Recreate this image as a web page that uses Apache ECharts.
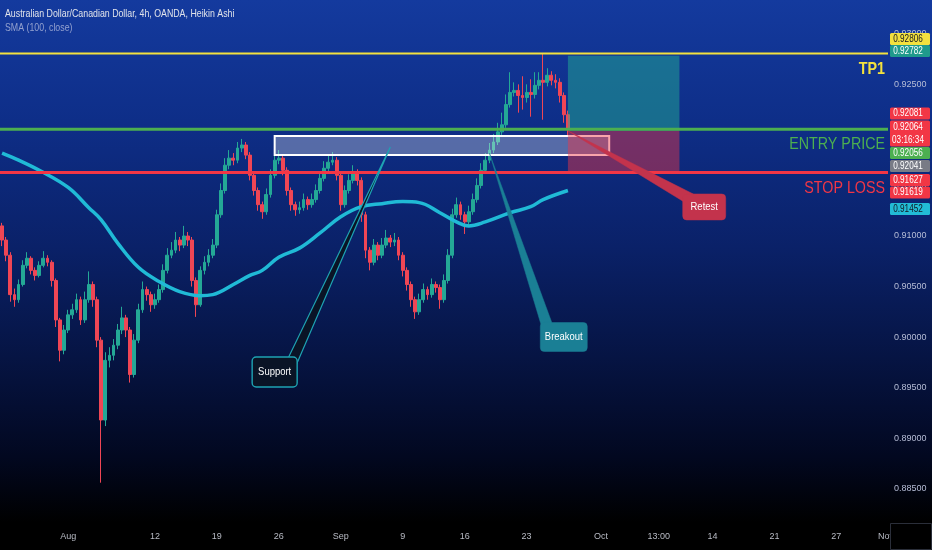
<!DOCTYPE html>
<html><head><meta charset="utf-8">
<script src="https://cdn.jsdelivr.net/npm/echarts@6/dist/echarts.min.js"></script>
<style>html,body{margin:0;padding:0;background:#000;}#c{width:932px;height:550px;}</style>
</head><body><div id="c"></div>
<script>
const chartTitle = 'Australian Dollar/Canadian Dollar, 4h, OANDA, Heikin Ashi';
const studyTitle = 'SMA (100, close)';

const opens = [0.9110,0.9096,0.9081,0.9042,0.9037,0.9052,0.9071,0.9078,0.9066,0.9061,
0.9071,0.9078,0.9074,0.9056,0.9017,0.8987,0.9007,0.9022,0.9027,0.9037,
0.9017,0.9037,0.9052,0.9037,0.8997,0.8918,0.8977,0.8982,0.8992,0.9007,
0.9019,0.9007,0.8963,0.8997,0.9027,0.9047,0.9042,0.9032,0.9037,0.9047,
0.9066,0.9081,0.9086,0.9096,0.9091,0.9100,0.9096,0.9056,0.9032,0.9066,
0.9074,0.9081,0.9091,0.9121,0.9145,0.9170,0.9177,0.9175,0.9187,0.9190,
0.9180,0.9160,0.9145,0.9131,0.9124,0.9141,0.9160,0.9175,0.9177,0.9165,
0.9145,0.9131,0.9126,0.9128,0.9136,0.9131,0.9136,0.9145,0.9157,0.9167,
0.9173,0.9175,0.9160,0.9131,0.9145,0.9155,0.9163,0.9155,0.9121,0.9086,
0.9074,0.9091,0.9081,0.9091,0.9098,0.9094,0.9096,0.9081,0.9066,0.9052,
0.9037,0.9025,0.9037,0.9047,0.9042,0.9052,0.9049,0.9037,0.9056,0.9081,
0.9121,0.9131,0.9121,0.9114,0.9124,0.9136,0.9150,0.9165,0.9175,0.9185,
0.9193,0.9203,0.9210,0.9230,0.9242,0.9244,0.9239,0.9237,0.9242,0.9240,
0.9249,0.9254,0.9252,0.9259,0.9254,0.9252,0.9239,0.9220];

const closes = [0.9096,0.9081,0.9042,0.9037,0.9052,0.9071,0.9078,0.9066,0.9061,0.9071,
0.9078,0.9074,0.9056,0.9017,0.8987,0.9007,0.9022,0.9027,0.9037,0.9017,
0.9037,0.9052,0.9037,0.8997,0.8918,0.8977,0.8982,0.8992,0.9007,0.9019,
0.9007,0.8963,0.8997,0.9027,0.9047,0.9042,0.9032,0.9037,0.9047,0.9066,
0.9081,0.9086,0.9096,0.9091,0.9100,0.9096,0.9056,0.9032,0.9066,0.9074,
0.9081,0.9091,0.9121,0.9145,0.9170,0.9177,0.9175,0.9187,0.9190,0.9180,
0.9160,0.9145,0.9131,0.9124,0.9141,0.9160,0.9175,0.9177,0.9165,0.9145,
0.9131,0.9126,0.9128,0.9136,0.9131,0.9136,0.9145,0.9157,0.9167,0.9173,
0.9175,0.9160,0.9131,0.9145,0.9155,0.9163,0.9155,0.9121,0.9086,0.9074,
0.9091,0.9081,0.9091,0.9098,0.9094,0.9096,0.9081,0.9066,0.9052,0.9037,
0.9025,0.9037,0.9047,0.9042,0.9052,0.9049,0.9037,0.9056,0.9081,0.9121,
0.9131,0.9121,0.9114,0.9124,0.9136,0.9150,0.9165,0.9175,0.9185,0.9193,
0.9203,0.9210,0.9230,0.9242,0.9244,0.9239,0.9237,0.9242,0.9240,0.9249,
0.9254,0.9252,0.9259,0.9254,0.9252,0.9239,0.9220,0.9206];

const highs = [0.9113,0.9099,0.9084,0.9048,0.9057,0.9076,0.9084,0.9080,0.9069,0.9075,
0.9085,0.9081,0.9076,0.9058,0.9019,0.9012,0.9027,0.9033,0.9043,0.9040,
0.9045,0.9065,0.9055,0.9040,0.9000,0.8985,0.8990,0.8998,0.9013,0.9030,
0.9022,0.9010,0.9003,0.9033,0.9055,0.9050,0.9045,0.9043,0.9052,0.9072,
0.9088,0.9094,0.9104,0.9099,0.9110,0.9104,0.9099,0.9059,0.9070,0.9080,
0.9087,0.9097,0.9126,0.9152,0.9177,0.9185,0.9182,0.9193,0.9196,0.9193,
0.9183,0.9163,0.9148,0.9134,0.9147,0.9166,0.9182,0.9185,0.9180,0.9168,
0.9148,0.9134,0.9134,0.9142,0.9139,0.9142,0.9151,0.9163,0.9174,0.9181,
0.9183,0.9178,0.9163,0.9150,0.9161,0.9170,0.9166,0.9158,0.9124,0.9089,
0.9097,0.9094,0.9098,0.9106,0.9101,0.9103,0.9099,0.9084,0.9069,0.9055,
0.9040,0.9043,0.9053,0.9050,0.9058,0.9055,0.9052,0.9062,0.9087,0.9127,
0.9138,0.9134,0.9124,0.9130,0.9142,0.9157,0.9172,0.9182,0.9192,0.9201,
0.9212,0.9222,0.9240,0.9262,0.9252,0.9250,0.9258,0.9250,0.9255,0.9262,
0.9262,0.9281,0.9266,0.9263,0.9260,0.9256,0.9242,0.9224];

const lows = [0.9090,0.9075,0.9035,0.9030,0.9034,0.9050,0.9068,0.9062,0.9056,0.9059,
0.9069,0.9070,0.9050,0.9010,0.8976,0.8983,0.9004,0.9018,0.9024,0.9012,
0.9014,0.9034,0.9030,0.8990,0.8856,0.8912,0.8970,0.8977,0.8988,0.9003,
0.9000,0.8955,0.8960,0.8994,0.9024,0.9036,0.9025,0.9028,0.9034,0.9044,
0.9063,0.9078,0.9083,0.9085,0.9088,0.9090,0.9050,0.9020,0.9030,0.9062,
0.9070,0.9078,0.9088,0.9118,0.9142,0.9166,0.9170,0.9172,0.9183,0.9176,
0.9155,0.9140,0.9125,0.9117,0.9121,0.9138,0.9157,0.9171,0.9160,0.9140,
0.9125,0.9120,0.9122,0.9125,0.9126,0.9128,0.9133,0.9142,0.9154,0.9164,
0.9170,0.9155,0.9125,0.9128,0.9142,0.9152,0.9150,0.9114,0.9078,0.9066,
0.9071,0.9076,0.9078,0.9088,0.9089,0.9090,0.9076,0.9060,0.9046,0.9030,
0.9018,0.9022,0.9034,0.9037,0.9039,0.9044,0.9028,0.9034,0.9053,0.9078,
0.9118,0.9116,0.9102,0.9111,0.9121,0.9133,0.9147,0.9162,0.9172,0.9182,
0.9190,0.9200,0.9207,0.9227,0.9238,0.9222,0.9225,0.9232,0.9218,0.9236,
0.9245,0.9215,0.9248,0.9249,0.9246,0.9232,0.9212,0.9198];

const smaIndex = [0,4,9,16,21,24,28,33,38,43,48,51,56,60,63,67,72,77,82,87,92,97,101,106,110,113,117,123,128,131,137];
const smaValues = [0.9182,0.9175,0.9165,0.9148,0.9128,0.9116,0.9093,0.9069,0.9055,0.9045,0.9041,0.9042,0.9052,0.9061,0.9066,0.9079,0.9088,0.9103,0.9119,0.9129,0.9132,0.9134,0.9133,0.9123,0.9114,0.9110,0.9114,0.9123,0.9129,0.9136,0.9145];

const yTicks = [0.885,0.89,0.895,0.90,0.905,0.91,0.915,0.92,0.925,0.93];
const tickDays  = ['2024-08-01','2024-08-12','2024-08-19','2024-08-26','2024-09-02','2024-09-09','2024-09-16','2024-09-23','2024-10-01','2024-10-07','2024-10-14','2024-10-21','2024-10-28','2024-11-01'];
const tickSlots = [0,0,0,0,0,0,0,0,0,2,0,0,0,0];
const tickTexts = ['Aug','12','19','26','Sep','9','16','23','Oct','13:00','14','21','27','Nov'];

// horizontal levels
const levelPrices = [0.92806, 0.92056, 0.91627];
const levelNames  = ['TP1', 'ENTRY PRICE', 'STOP LOSS'];

// long position tool
const posTP = 0.92782, posEntry = 0.92041, posStop = 0.91619;
// price tags on the scale
const tagPrices = [0.92806,0.92782,0.92081,0.92064,0.92056,0.92041,0.91627,0.91619,0.91452];
const tagExtra  = ['','','','03:16:34','','','','',''];

// ---------- presentation ----------
const FONT = "'Liberation Sans','Roboto',sans-serif";
const cats = (function(){
  const out = [];
  const d = new Date(Date.UTC(2024,6,24));
  const end = Date.UTC(2024,10,1);
  while (d.getTime() <= end) {
    const wd = d.getUTCDay();
    if (wd !== 0 && wd !== 6) {
      const s = d.toISOString().slice(0,10);
      for (let k=0;k<3;k++) out.push(s + ' ' + k);
    }
    d.setUTCDate(d.getUTCDate()+1);
  }
  return out.slice(2, 2+215);
})();
const tickMap = {};
tickDays.forEach((d,k)=>{ tickMap[d+' '+tickSlots[k]] = tickTexts[k]; });

const candles = opens.map((o,i)=>[o, closes[i], lows[i], highs[i]]);
const sma = smaIndex.map((x,k)=>[x, smaValues[k]]);

const layout = {
  box: {from: 65.8, to: 147.3, top: 0.91989, bottom: 0.91800},
  pos: {from: 136.9, to: 163.8},
  callouts: [
    {text:'Support', tip:[93.7,0.9188], at:[65.8,0.89655], w:45, h:30, fill:'#0a1426', stroke:'#1ea3b3', base:[[14,-15],[22,-8]]},
    {text:'Breakout', tip:[118.4,0.9182], at:[136.4,0.90001], w:47, h:29, fill:'#1a7f95', stroke:null, base:[[-12,-14.5],[-22,-10]]},
    {text:'Retest', tip:[136.6,0.9204], at:[170.1,0.91287], w:43, h:26, fill:'#c3334c', stroke:null, base:[[-11,-13],[-20,-5]]}
  ],
  tagAt: [0.92949,0.92830,0.92212,0.92014,0.91821,0.91692,0.91554,0.91430,0.91267],
  tagFill: ['#f3e13e','#1f9a8c','#f23645','#f23645','#4caf50','#787b86','#f23645','#f23645','#22bcd6'],
  tagInk: ['#131722','#ffffff','#ffffff','#ffffff','#ffffff','#ffffff','#ffffff','#ffffff','#131722'],
  levelColor: ['#f3e13e','#4caf50','#f23645'],
  levelWidth: [2,3,3]
};

function renderOverlay(params, api) {
  const cs = params.coordSys;
  const X = i => api.coord([i, 0.91])[0];
  const Y = p => api.coord([0, p])[1];
  const kids = [];
  const b = layout.box;
  kids.push({type:'rect', shape:{x:X(b.from), y:Y(b.top), width:X(b.to)-X(b.from), height:Y(b.bottom)-Y(b.top)},
    style:{fill:'rgba(255,255,255,0.30)', stroke:'#ffffff', lineWidth:2}});
  const px0 = X(layout.pos.from), px1 = X(layout.pos.to);
  kids.push({type:'rect', shape:{x:px0, y:Y(posTP), width:px1-px0, height:Y(posEntry)-Y(posTP)}, style:{fill:'rgba(34,171,148,0.50)'}});
  kids.push({type:'rect', shape:{x:px0, y:Y(posEntry), width:px1-px0, height:Y(posStop)-Y(posEntry)}, style:{fill:'rgba(242,54,69,0.45)'}});
  levelPrices.forEach((p,k)=>{
    const y = Y(p);
    kids.push({type:'line', shape:{x1:cs.x, y1:y, x2:cs.x+cs.width, y2:y}, style:{stroke:layout.levelColor[k], lineWidth:layout.levelWidth[k]}});
  });
  layout.callouts.forEach(c=>{
    const tx = X(c.tip[0]), ty = Y(c.tip[1]);
    const cx = X(c.at[0]), cy = Y(c.at[1]);
    const pts = [[tx,ty],[cx+c.base[0][0],cy+c.base[0][1]],[cx+c.base[1][0],cy+c.base[1][1]]];
    kids.push({type:'polygon', shape:{points:pts}, style:{fill:c.fill, stroke:c.stroke||c.fill, lineWidth:c.stroke?1.2:0.5}});
    kids.push({type:'rect', shape:{x:cx-c.w/2, y:cy-c.h/2, width:c.w, height:c.h, r:4},
      style:{fill:c.fill, stroke:c.stroke||c.fill, lineWidth:c.stroke?1.4:0.5}});
    kids.push({type:'text', x:cx, y:cy, scaleX:0.86, style:{text:c.text, fill:'#ffffff', font:'11px '+FONT, align:'center', verticalAlign:'middle'}});
  });
  levelPrices.forEach((p,k)=>{
    kids.push({type:'text', x:cs.x+cs.width-3, y:Y(p)+15.5, scaleX:0.84, style:{text:levelNames[k], fill:layout.levelColor[k],
      font:(k===0?'bold ':'')+'17px '+FONT, align:'right', verticalAlign:'middle'}});
  });
  const tx0 = cs.x + cs.width + 2;
  tagPrices.forEach((p,k)=>{
    const cy = Y(layout.tagAt[k]);
    const h = tagExtra[k] ? 26 : 12;
    kids.push({type:'rect', shape:{x:tx0, y:cy-h/2, width:40, height:h, r:1.5}, style:{fill:layout.tagFill[k]}});
    const txt = tagExtra[k] ? p.toFixed(5)+'\n'+tagExtra[k] : p.toFixed(5);
    kids.push({type:'text', x:tx0+18, y:cy, scaleX:0.78, style:{text:txt, fill:layout.tagInk[k], font:'10.5px '+FONT, align:'center', verticalAlign:'middle', lineHeight:13}});
  });
  return {type:'group', children:kids};
}

const chart = echarts.init(document.getElementById('c'), null, {renderer:'canvas'});
chart.setOption({
  animation:false,
  backgroundColor:{type:'linear', x:0, y:0, x2:0, y2:1, colorStops:[
    {offset:0, color:'#143a9e'},{offset:0.22, color:'#0e2e88'},{offset:0.45, color:'#0a2168'},
    {offset:0.65, color:'#061443'},{offset:0.83, color:'#020820'},{offset:0.95, color:'#000000'},{offset:1, color:'#000000'}]},
  grid:{left:0, right:44, top:0, bottom:28},
  xAxis:{type:'category', data:cats, boundaryGap:true,
    axisLine:{show:false}, axisTick:{show:false}, splitLine:{show:false},
    axisLabel:{interval:(idx,val)=>tickMap[val]!==undefined, formatter:v=>tickMap[v]||'',
      color:'#b8bbc4', fontFamily:FONT, fontSize:9, margin:10, hideOverlap:false}},
  yAxis:{type:'value', position:'right', min:0.881711, max:0.933343, scale:true,
    axisLine:{show:false}, axisTick:{show:false}, splitLine:{show:false},
    axisLabel:{customValues:yTicks, formatter:v=>v.toFixed(5), color:'#b6bdd6', fontFamily:FONT, fontSize:9, margin:6}},
  series:[
    {type:'candlestick', data:candles, barWidth:3.3, z:2,
      itemStyle:{color:'#24a896', color0:'#ef4655', borderColor:'#24a896', borderColor0:'#ef4655', borderWidth:1}},
    {type:'line', data:sma, smooth:0.4, showSymbol:false, z:3,
      lineStyle:{color:'#20bad6', width:3.5}},
    {type:'custom', data:[[0,0.91]], renderItem:renderOverlay, clip:false, z:5, silent:true}
  ],
  graphic:[
    {type:'text', left:5, top:8, scaleX:0.8, style:{text:chartTitle, fill:'#e0e3ea', font:'11px '+FONT}},
    {type:'text', left:5, top:22, scaleX:0.8, style:{text:studyTitle, fill:'#93a1cf', font:'11px '+FONT}},
    {type:'rect', right:0, bottom:0, shape:{width:41, height:26}, style:{fill:'#000000', stroke:'#2a2e39', lineWidth:1}, z:100}
  ]
});
</script></body></html>
